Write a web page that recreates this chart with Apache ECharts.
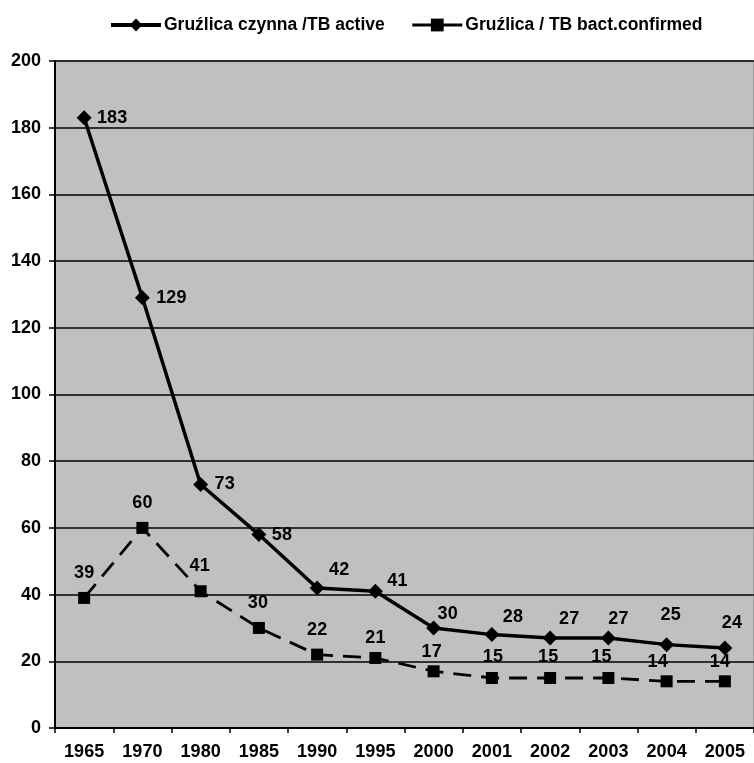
<!DOCTYPE html>
<html>
<head>
<meta charset="utf-8">
<script src="https://cdn.jsdelivr.net/npm/echarts@6/dist/echarts.min.js"></script>
<style>
  html, body { margin:0; padding:0; background:#fff; }
  #chart { width:754px; height:763px; }
</style>
</head>
<body>
<div id="chart"></div>
<script>
// dane
const years = ['1965','1970','1980','1985','1990','1995','2000','2001','2002','2003','2004','2005'];
const tbActive = [183, 129, 73, 58, 42, 41, 30, 28, 27, 27, 25, 24];
const tbConfirmed = [39, 60, 41, 30, 22, 21, 17, 15, 15, 15, 14, 14];
const nameActive = 'Gruźlica czynna /TB active';
const nameConfirmed = 'Gruźlica / TB bact.confirmed';

// przesunięcia etykiet (środek etykiety względem punktu)
const activeLabelShift = [[28,0],[29,0],[24,-1],[23,0],[22,-18],[22,-10],[14,-14],[21,-18],[19,-19],[10,-19],[4,-30],[7,-25]];
const confirmedLabelShift = [[0,-25],[0,-25],[-1,-25],[-1,-25],[0,-25],[0,-20],[-2,-19],[1,-21],[-2,-21],[-7,-21],[-9,-19],[-5,-19]];

const font = "'Liberation Sans', Arial, sans-serif";

function withLabels(values, shifts){
    return values.map((v, i) => ({
        value: v,
        label: { offset: shifts[i] }
    }));
}

const chart = echarts.init(document.getElementById('chart'));
const option = {
    backgroundColor:'#ffffff',
    animation:false,
    textStyle:{ fontFamily:font },
    legend:{
        left:104,
        top:11,
        itemWidth:50,
        itemHeight:16,
        itemGap:26,
        textStyle:{ color:'#000', fontSize:17.5, fontWeight:'bold', fontFamily:font, padding:[0,0,0,-2] },
        data:[
            { name:nameActive, lineStyle:{ width:4 } },
            { name:nameConfirmed, lineStyle:{ type:'solid', width:3 } }
        ]
    },
    grid:{
        left:55,
        top:61,
        width:705,
        height:667,
        show:true,
        backgroundColor:'#c0c0c0',
        borderColor:'#808080',
        borderWidth:1,
        containLabel:false
    },
    xAxis:{
        type:'category',
        data:years,
        boundaryGap:true,
        axisLine:{ lineStyle:{ color:'#000', width:2 } },
        axisTick:{ show:true, interval:0, length:5, lineStyle:{ color:'#000', width:1.5 } },
        axisLabel:{ color:'#000', fontSize:18, fontWeight:'bold', fontFamily:font, margin:15, interval:0 },
        splitLine:{ show:false }
    },
    yAxis:{
        type:'value',
        min:0,
        max:200,
        interval:20,
        axisLine:{ show:true, lineStyle:{ color:'#000', width:2 } },
        axisTick:{ show:true, length:6, lineStyle:{ color:'#000', width:1.5 } },
        axisLabel:{ color:'#000', fontSize:18, fontWeight:'bold', fontFamily:font, margin:14 },
        splitLine:{ show:true, lineStyle:{ color:'#000', width:1.5 } }
    },
    series:[
        {
            name:nameConfirmed,
            type:'line',
            data:withLabels(tbConfirmed, confirmedLabelShift),
            symbol:'rect',
            symbolSize:12,
            lineStyle:{ color:'#000', width:2.8, type:[18, 10] },
            itemStyle:{ color:'#000' },
            label:{ show:true, position:'inside', color:'#000', fontSize:18, fontWeight:'bold', fontFamily:font },
            z:2
        },
        {
            name:nameActive,
            type:'line',
            data:withLabels(tbActive, activeLabelShift),
            symbol:'diamond',
            symbolSize:15,
            lineStyle:{ color:'#000', width:3.5 },
            itemStyle:{ color:'#000' },
            label:{ show:true, position:'inside', color:'#000', fontSize:18, fontWeight:'bold', fontFamily:font },
            z:3
        }
    ]
};
chart.setOption(option);
</script>
</body>
</html>
